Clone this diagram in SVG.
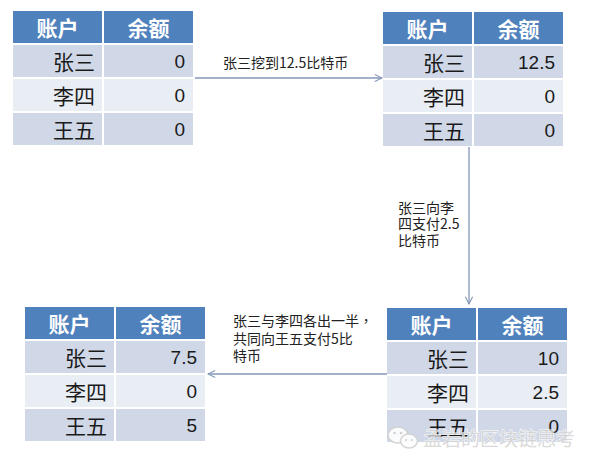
<svg xmlns="http://www.w3.org/2000/svg" xmlns:xlink="http://www.w3.org/1999/xlink" width="601" height="467" viewBox="0 0 601 467">
<style>
.hd{fill:#4F81BD}
.r1{fill:#D0D8E8}
.r2{fill:#E9EDF4}
.ht{font-family:"Noto Sans CJK SC",sans-serif;font-weight:bold;font-size:21px;fill:#FFFFFF;text-anchor:middle;dominant-baseline:central}
.nm{font-family:"Noto Sans CJK SC",sans-serif;font-size:21px;fill:#1A1A1A;text-anchor:end;dominant-baseline:central}
.num{font-family:"Liberation Sans",sans-serif;font-size:19px;fill:#1A1A1A;text-anchor:end;dominant-baseline:central}
.lbl{font-family:"Noto Sans CJK SC",sans-serif;font-size:14px;fill:#222222;dominant-baseline:central}
.conn{stroke:#8497B8;stroke-width:1.3;fill:none}
.wm{font-family:"Noto Sans CJK SC",sans-serif;font-size:19px;fill:#D4D4D4;stroke:#FFFFFF;stroke-width:1.2;paint-order:stroke;dominant-baseline:central;opacity:0.85}
</style>
<defs>
<marker id="arr" viewBox="0 0 10 10" refX="9" refY="5" markerWidth="9" markerHeight="10" markerUnits="userSpaceOnUse" orient="auto">
<path d="M1,1 L9,5 L1,9" fill="none" stroke="#8497B8" stroke-width="1.2"/>
</marker>
<g id="tbl">
<rect class="hd" x="0" y="0" width="89" height="32"/>
<rect class="hd" x="91" y="0" width="89" height="32"/>
<rect class="r1" x="0" y="34" width="89" height="32"/>
<rect class="r1" x="91" y="34" width="89" height="32"/>
<rect class="r2" x="0" y="68" width="89" height="32"/>
<rect class="r2" x="91" y="68" width="89" height="32"/>
<rect class="r1" x="0" y="102" width="89" height="32"/>
<rect class="r1" x="91" y="102" width="89" height="32"/>
</g>
</defs>
<rect width="601" height="467" fill="#FFFFFF"/>

<g id="table-initial" transform="translate(13,11)">
<use xlink:href="#tbl"/>
<text class="ht" x="44.5" y="16">账户</text>
<text class="ht" x="135.5" y="16">余额</text>
<text class="nm" x="82" y="50">张三</text>
<text class="num" x="172" y="50">0</text>
<text class="nm" x="82" y="84">李四</text>
<text class="num" x="172" y="84">0</text>
<text class="nm" x="82" y="118">王五</text>
<text class="num" x="172" y="118">0</text>
</g>

<g id="table-mined" transform="translate(383,12)">
<use xlink:href="#tbl"/>
<text class="ht" x="44.5" y="16">账户</text>
<text class="ht" x="135.5" y="16">余额</text>
<text class="nm" x="82" y="50">张三</text>
<text class="num" x="172" y="50">12.5</text>
<text class="nm" x="82" y="84">李四</text>
<text class="num" x="172" y="84">0</text>
<text class="nm" x="82" y="118">王五</text>
<text class="num" x="172" y="118">0</text>
</g>

<g id="table-paid" transform="translate(387,308)">
<use xlink:href="#tbl"/>
<text class="ht" x="44.5" y="16">账户</text>
<text class="ht" x="135.5" y="16">余额</text>
<text class="nm" x="82" y="50">张三</text>
<text class="num" x="172" y="50">10</text>
<text class="nm" x="82" y="84">李四</text>
<text class="num" x="172" y="84">2.5</text>
<text class="nm" x="82" y="118">王五</text>
<text class="num" x="172" y="118">0</text>
</g>

<g id="table-final" transform="translate(25,307)">
<use xlink:href="#tbl"/>
<text class="ht" x="44.5" y="16">账户</text>
<text class="ht" x="135.5" y="16">余额</text>
<text class="nm" x="82" y="50">张三</text>
<text class="num" x="172" y="50">7.5</text>
<text class="nm" x="82" y="84">李四</text>
<text class="num" x="172" y="84">0</text>
<text class="nm" x="82" y="118">王五</text>
<text class="num" x="172" y="118">5</text>
</g>

<g id="connectors">
<line class="conn" x1="195" y1="78" x2="382" y2="78" marker-end="url(#arr)"/>
<text class="lbl" x="223" y="62">张三挖到12.5比特币</text>
<line class="conn" x1="469" y1="147" x2="469" y2="304" marker-end="url(#arr)"/>
<text class="lbl" x="398" y="206.5"><tspan x="398" y="206.5">张三向李</tspan><tspan x="398" y="223">四支付2.5</tspan><tspan x="398" y="239.5">比特币</tspan></text>
<line class="conn" x1="387" y1="374" x2="208" y2="374" marker-end="url(#arr)"/>
<text class="lbl" x="233" y="320"><tspan x="233" y="320">张三与李四各出一半<tspan font-family="'Noto Sans CJK TC',sans-serif">，</tspan></tspan><tspan x="233" y="337.5">共同向王五支付5比</tspan><tspan x="233" y="355">特币</tspan></text>
</g>

<g id="watermark">
<ellipse cx="398" cy="435" rx="10" ry="8" fill="#FFFFFF" stroke="#D2D2D2" stroke-width="1.5" opacity="0.9"/>
<ellipse cx="409" cy="441" rx="8.5" ry="7" fill="#FFFFFF" stroke="#D2D2D2" stroke-width="1.5" opacity="0.9"/>
<circle cx="394.5" cy="433" r="1.3" fill="#D2D2D2"/>
<circle cx="401" cy="433" r="1.3" fill="#D2D2D2"/>
<circle cx="406" cy="440" r="1.1" fill="#D2D2D2"/>
<circle cx="412" cy="440" r="1.1" fill="#D2D2D2"/>
<text class="wm" x="423" y="437">孟岩的区块链思考</text>
</g>
</svg>
